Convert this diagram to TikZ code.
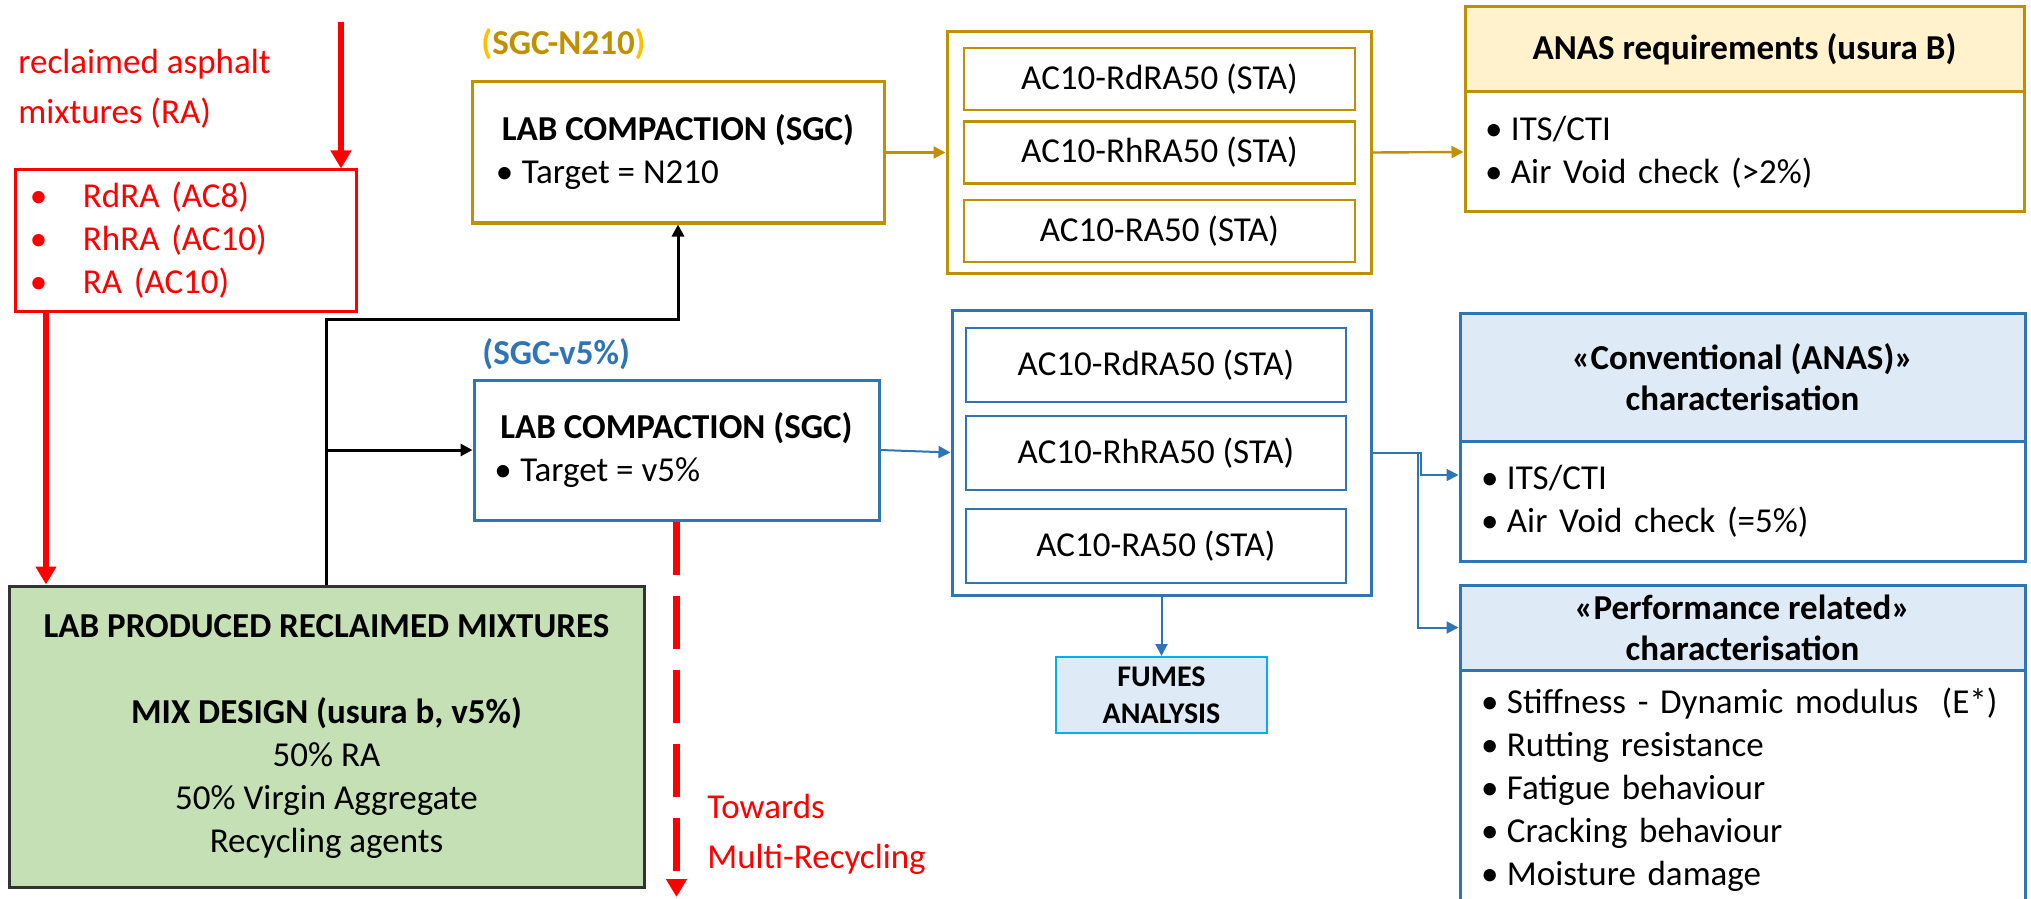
\documentclass[tikz,border=0pt]{standalone}
\usepackage{fontspec}
\setmainfont{Carlito}
\usetikzlibrary{positioning,arrows.meta}
\definecolor{redc}{HTML}{FF0000}
\definecolor{goldc}{HTML}{BF9000}
\definecolor{goldlt}{HTML}{FFC000}
\definecolor{bluec}{HTML}{2E75B6}
\definecolor{bluefill}{HTML}{DEEBF7}
\definecolor{yellowfill}{HTML}{FFF2CC}
\definecolor{greenfill}{HTML}{C5E0B4}
\definecolor{cyanc}{HTML}{00B0F0}
\newcommand{\bul}[1][13pt]{\makebox[#1][l]{\textbullet}}

\begin{document}
\begin{tikzpicture}[
    x=0.5pt, y=-0.5pt,
    font=\fontsize{17.5}{21.5}\selectfont,
    box/.style={draw, line width=1.5pt, inner sep=0pt, align=center},
    redbox/.style={box, draw=redc, text=redc},
    goldbox/.style={box, draw=goldc},
    bluebox/.style={box, draw=bluec},
    subA/.style={goldbox, line width=1.2pt, minimum width=195.5pt, minimum height=31pt},
    subB/.style={bluebox, line width=1.2pt, minimum width=190pt, minimum height=37pt},
    head/.style={font=\bfseries\fontsize{17.5}{20.5}\selectfont},
    tag/.style={anchor=base west, inner sep=0pt, font=\bfseries\fontsize{17.5}{21.5}\selectfont},
    redtxt/.style={text=redc, inner sep=0pt, align=left, font=\fontsize{17.5}{25}\selectfont},
    redarr/.style={draw=redc, line width=3pt, -{Triangle[length=9pt,width=10pt]}},
    blkarr/.style={draw=black, line width=1.5pt, -{Triangle[length=6pt,width=6pt]}},
    goldarr/.style={draw=goldc, line width=1.2pt, -{Triangle[length=6pt,width=6pt]}},
    bluearr/.style={draw=bluec, line width=1pt, -{Triangle[length=6pt,width=6pt]}}
]
\useasboundingbox (0,0) rectangle (2031,899);

% Inputs
\node[redtxt, anchor=west] (ratext) at (18,89) {reclaimed asphalt\\mixtures (RA)};
\node[redbox, align=left, inner xsep=7.5pt, text width=155.5pt, minimum height=70.5pt] (rabox) at (185.5,240.5)
    {\bul[26.5pt]RdRA (AC8)\\\bul[26.5pt]RhRA (AC10)\\\bul[26.5pt]RA (AC10)};
\node[box, draw=black!80, fill=greenfill, minimum width=317.5pt, minimum height=150.5pt] (mixbox) at (326.5,736.5)
    {\textbf{LAB PRODUCED RECLAIMED MIXTURES}\\[21.5pt]\textbf{MIX DESIGN (usura b, v5\%)}\\50\% RA\\50\% Virgin Aggregate\\Recycling agents};
\coordinate (rain) at (341,22);
\coordinate (ramix) at (46,0);
\coordinate (split) at (326.5,319);

% Compaction
\node[tag, text=goldc] (lblA) at (481,55) {{\color{goldlt}(}SGC-N210{\color{goldlt})}};
\node[goldbox, align=left, minimum width=206pt, minimum height=70.5pt] (sgcA) at (678,152.5)
    {\textbf{LAB COMPACTION (SGC)}\\\hspace*{-3pt}\bul Target = N210};
\node[tag, text=bluec] (lblB) at (482,364) {(SGC-v5\%)};
\node[bluebox, align=left, minimum width=202.5pt, minimum height=70pt] (sgcB) at (676.5,450)
    {\textbf{LAB COMPACTION (SGC)}\\\hspace*{-3pt}\bul Target = v5\%};

% Mixtures
\node[goldbox, minimum width=212pt, minimum height=120.5pt] (grpA) at (1159,152.5) {};
\node[subA] (rdA) at (1159.5,79) {AC10-RdRA50 (STA)};
\node[subA] (rhA) at (1159.5,152.5) {AC10-RhRA50 (STA)};
\node[subA] (raA) at (1159.5,231) {AC10-RA50 (STA)};
\node[bluebox, minimum width=209.5pt, minimum height=142.5pt] (grpB) at (1161.5,452.5) {};
\node[subB] (rdB) at (1156,365) {AC10-RdRA50 (STA)};
\node[subB] (rhB) at (1156,453) {AC10-RhRA50 (STA)};
\node[subB] (raB) at (1156,546) {AC10-RA50 (STA)};
\node[box, draw=cyanc, line width=1pt, fill=bluefill, minimum width=105.5pt, minimum height=38pt,
    font=\bfseries\fontsize{15}{18.5}\selectfont] (fumes) at (1161.5,695) {FUMES\\ANALYSIS};

% Characterisation
\node[goldbox, fill=yellowfill, head, minimum width=279.5pt, minimum height=42.5pt] (anashead) at (1744.5,49.5)
    {ANAS requirements (usura B)};
\node[goldbox, align=left, inner xsep=10pt, text width=259.5pt, minimum height=60pt] (anasbody) at (1744.5,152)
    {\bul ITS/CTI\\\bul Air Void check (>2\%)};
\node[bluebox, fill=bluefill, head, minimum width=282.5pt, minimum height=64pt] (convhead) at (1742.5,377)
    {«Conventional (ANAS)»\\characterisation};
\node[bluebox, align=left, inner xsep=10.5pt, text width=261.5pt, minimum height=60pt] (convbody) at (1742.5,501)
    {\bul ITS/CTI\\\bul Air Void check (=5\%)};
\node[bluebox, fill=bluefill, head, minimum width=282.5pt, minimum height=42.5pt] (perfhead) at (1742.5,627.5)
    {«Performance related»\\characterisation};
\node[bluebox, align=left, inner xsep=10.5pt, text width=261.5pt, minimum height=120pt] (perfbody) at (1742.5,790)
    {\bul Stiffness - Dynamic modulus~~(E*)\\\bul Rutting resistance\\\bul Fatigue behaviour\\\bul Cracking behaviour\\\bul Moisture damage};

\node[redtxt, anchor=west] (towards) at (707,834) {Towards\\Multi-Recycling};
\coordinate (mrend) at (676.5,897);

% Connectors
\draw[redarr] (rain) -- (rabox.north -| rain);
\draw[redarr] (rabox.south -| ramix) -- (mixbox.north -| ramix);
\draw[blkarr] (mixbox.north) -- (split) -| (sgcA.south);
\draw[blkarr] (mixbox.north |- sgcB.west) -- (sgcB.west);
\draw[goldarr] (sgcA.east) -- (grpA.west);
\draw[goldarr] (grpA.east) -- (anasbody.west);
\draw[bluearr] (sgcB.east) -- (grpB.west);
\draw[bluearr] (grpB.east) -- ++(48,0) |- ([yshift=13pt]convbody.west);
\draw[bluearr] (grpB.east) -- ++(45,0) |- (perfhead.west);
\draw[bluearr] (grpB.south) -- (fumes.north);
\draw[redarr, line width=3.5pt, dash pattern=on 26.5pt off 10.5pt] (sgcB.south) -- (mrend);
\end{tikzpicture}
\end{document}
